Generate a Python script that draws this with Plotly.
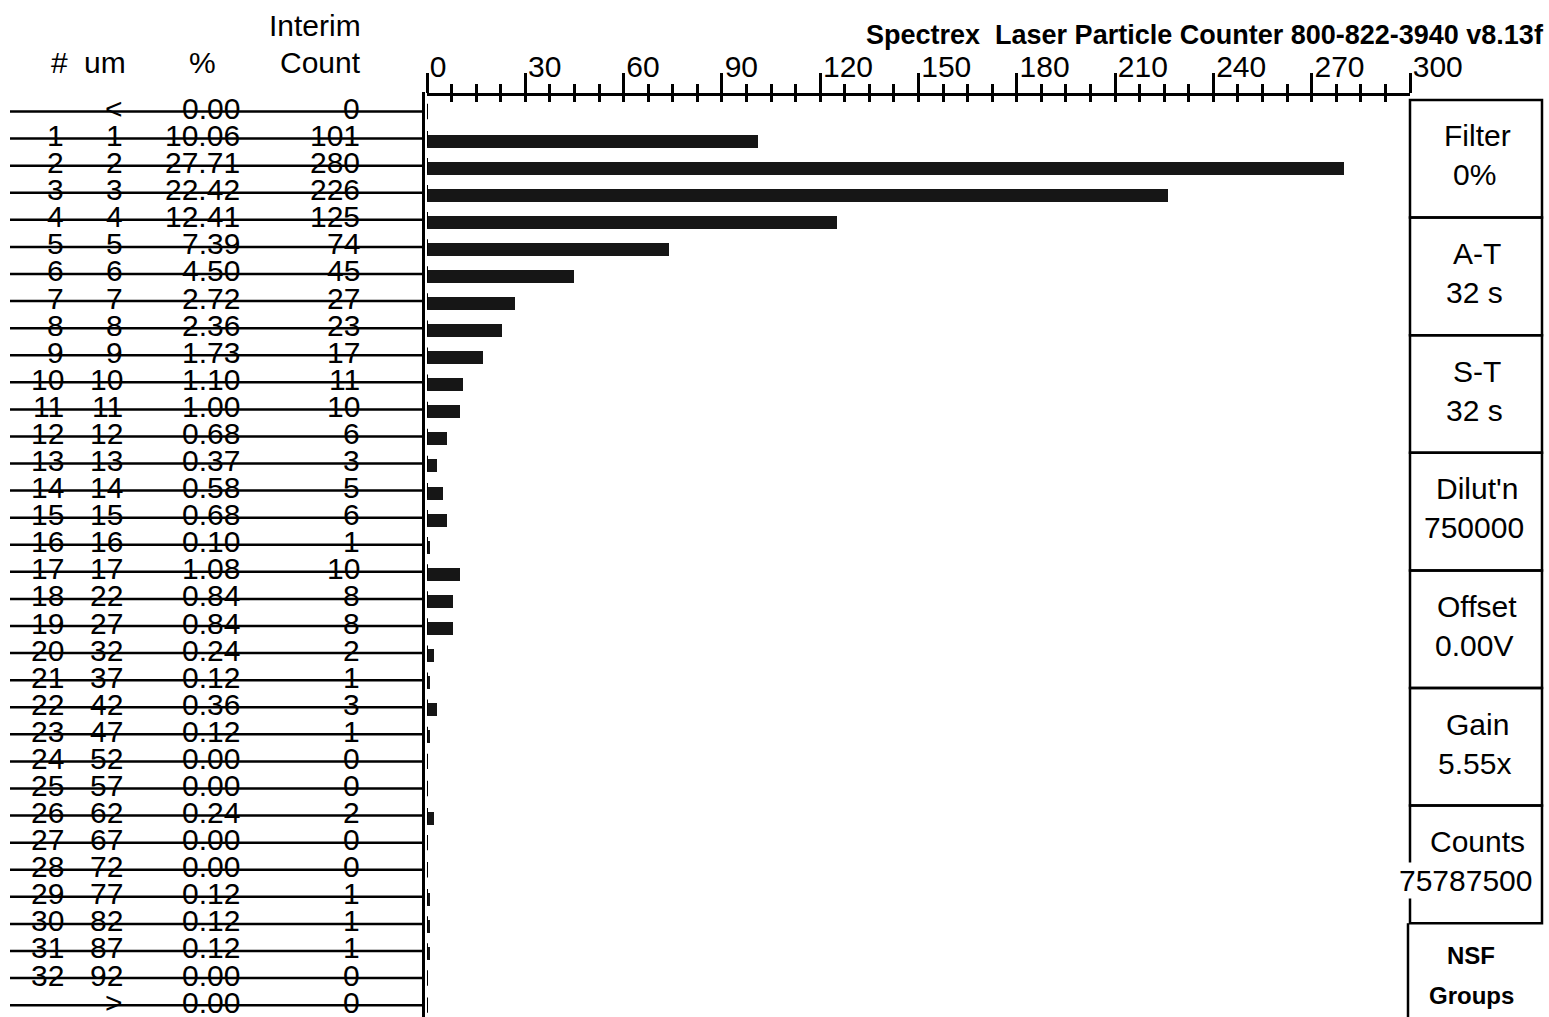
import plotly.graph_objects as go

# ---- particle counter readout ----
size_index = [""] + [str(n) for n in range(1, 33)] + [""]
size_um = (["<"] + [str(n) for n in range(1, 18)]
           + ["22", "27", "32", "37", "42", "47", "52", "57", "62", "67",
              "72", "77", "82", "87", "92"] + [">"])
percent = [0.00, 10.06, 27.71, 22.42, 12.41, 7.39, 4.50, 2.72, 2.36, 1.73,
           1.10, 1.00, 0.68, 0.37, 0.58, 0.68, 0.10, 1.08, 0.84, 0.84,
           0.24, 0.12, 0.36, 0.12, 0.00, 0.00, 0.24, 0.00, 0.00, 0.12,
           0.12, 0.12, 0.00, 0.00]
interim_count = [0, 101, 280, 226, 125, 74, 45, 27, 23, 17,
                 11, 10, 6, 3, 5, 6, 1, 10, 8, 8,
                 2, 1, 3, 1, 0, 0, 2, 0, 0, 1,
                 1, 1, 0, 0]
rows = list(range(len(interim_count)))

axis_ticks = list(range(0, 301, 30))

settings_labels = ["Filter", "A-T", "S-T", "Dilut'n", "Offset", "Gain", "Counts"]
settings_values = ["0%", "32 s", "32 s", "750000", "0.00V", "5.55x", "75787500"]
title_text = "Spectrex\u00a0\u00a0Laser Particle Counter 800-822-3940 v8.13f"

# ---- page geometry (pixels) ----
W, H = 1549, 1017
FONT = "Liberation Sans, Arial, sans-serif"
ROW0, ROWH = 111.5, 27.08       # y of first row rule, row pitch
AXIS_Y = 94                      # top scale line
PLOT_L, PLOT_R = 427, 1410       # 0 and 300 on the scale
YLINE_X = 423


def px_x(p):
    return p / W


def px_y(p):
    return 1 - p / H


def row_at(p):
    return (p - ROW0) / ROWH


fig = go.Figure()

fig.add_trace(go.Bar(
    x=interim_count, y=rows, orientation="h",
    width=0.48, offset=-0.15,
    marker=dict(color="#161616", line=dict(width=0)),
    hoverinfo="skip", showlegend=False,
))

# baseline stubs at the zero end of every row
fig.add_trace(go.Scatter(
    x=[0] * len(rows), y=rows, xaxis="x2", mode="markers",
    marker=dict(symbol="line-ns", size=11, color="black",
                line=dict(color="black", width=2)),
    hoverinfo="skip", showlegend=False,
))

annotations = []
shapes = []

# table columns (right edges in px)
columns = [
    (66, size_index),
    (125, size_um),
    (242, [f"{v:.2f}" for v in percent]),
    (362, [str(c) for c in interim_count]),
]
for xr, texts in columns:
    for r, t in zip(rows, texts):
        if not t:
            continue
        annotations.append(dict(
            x=px_x(xr), xref="paper", xanchor="right",
            y=r, yref="y", yanchor="middle", yshift=3,
            text=t, showarrow=False,
            font=dict(family=FONT, size=30, color="black"),
        ))

# row rules
for r in rows:
    shapes.append(dict(
        type="line", xref="paper", yref="y",
        x0=px_x(10), x1=px_x(YLINE_X), y0=r, y1=r,
        line=dict(color="black", width=2.5),
    ))

# column headers
headers = [
    ("#", 70, 62, "right"),
    ("um", 128, 62, "right"),
    ("%", 202, 62, "center"),
    ("Interim", 363, 26, "right"),
    ("Count", 363, 62, "right"),
]
for t, xp, yp, anc in headers:
    annotations.append(dict(
        x=px_x(xp), xref="paper", xanchor=anc,
        y=px_y(yp), yref="paper", yanchor="middle",
        text=t, showarrow=False,
        font=dict(family=FONT, size=30, color="black"),
    ))

# title
annotations.append(dict(
    x=px_x(1546), xref="paper", xanchor="right",
    y=px_y(35), yref="paper", yanchor="middle",
    text=f"<b>{title_text}</b>", showarrow=False,
    font=dict(family=FONT, size=27, color="black"),
))

# settings panel
BOX_L, BOX_R = 1410, 1542
BOX_TOP, BOX_H = 100, 117.6
for k, (lab, val) in enumerate(zip(settings_labels, settings_values)):
    top = BOX_TOP + k * BOX_H
    shapes.append(dict(
        type="rect", xref="paper", yref="paper",
        x0=px_x(BOX_L), x1=px_x(BOX_R), y0=px_y(top), y1=px_y(top + BOX_H),
        line=dict(color="black", width=2.5), layer="below",
    ))
    annotations.append(dict(
        x=px_x(1477), xref="paper", xanchor="center",
        y=px_y(top + 36), yref="paper", yanchor="middle",
        text=lab, showarrow=False,
        font=dict(family=FONT, size=30, color="black"),
    ))
    wide = lab == "Counts"
    annotations.append(dict(
        x=px_x(1534 if wide else 1474), xref="paper",
        xanchor="right" if wide else "center",
        y=px_y(top + 75), yref="paper", yanchor="middle",
        text=val, showarrow=False,
        bgcolor="white" if wide else None,
        font=dict(family=FONT, size=30, color="black"),
    ))

panel_bottom = BOX_TOP + len(settings_labels) * BOX_H
shapes.append(dict(
    type="line", xref="paper", yref="paper",
    x0=px_x(1408), x1=px_x(1408), y0=px_y(panel_bottom), y1=0,
    line=dict(color="black", width=2.5), layer="below",
))
for t, yp in [("NSF", 955), ("Groups", 995)]:
    annotations.append(dict(
        x=px_x(1471), xref="paper", xanchor="center",
        y=px_y(yp), yref="paper", yanchor="middle",
        text=f"<b>{t}</b>", showarrow=False,
        font=dict(family=FONT, size=24, color="black"),
    ))

fig.update_layout(
    width=W, height=H,
    margin=dict(l=0, r=0, t=0, b=0, autoexpand=False),
    paper_bgcolor="white", plot_bgcolor="white",
    showlegend=False,
    bargap=0,
    xaxis=dict(
        domain=[px_x(PLOT_L), px_x(PLOT_R)],
        range=[0, 300], side="top", anchor="free", position=px_y(AXIS_Y),
        automargin=False,
        showline=True, linecolor="black", linewidth=3,
        showgrid=False, zeroline=False,
        tickmode="array", tickvals=axis_ticks,
        ticktext=[str(v) for v in axis_ticks],
        ticks="outside", ticklen=20, tickwidth=2.5, tickcolor="black",
        ticklabelposition="outside right", ticklabelstandoff=4,
        tickfont=dict(family=FONT, size=30, color="black"),
        minor=dict(dtick=7.5, tick0=0, ticks="outside", ticklen=9,
                   tickwidth=2.5, tickcolor="black", showgrid=False),
    ),
    xaxis2=dict(
        overlaying="x", range=[0, 300], side="top",
        anchor="free", position=px_y(AXIS_Y), automargin=False,
        showline=False, showgrid=False, zeroline=False,
        showticklabels=False,
        tick0=0, dtick=7.5,
        ticks="inside", ticklen=7, tickwidth=2.5, tickcolor="black",
    ),
    yaxis=dict(
        domain=[0, px_y(92)],
        range=[row_at(H), row_at(92)],
        anchor="free", position=px_x(YLINE_X), automargin=False,
        showline=True, linecolor="black", linewidth=3,
        showgrid=False, zeroline=False, showticklabels=False, ticks="",
    ),
    annotations=annotations,
    shapes=shapes,
)

fig.write_html("out.html")
